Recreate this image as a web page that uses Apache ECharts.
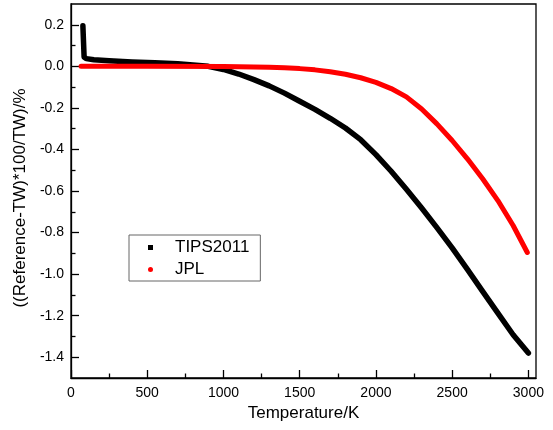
<!DOCTYPE html>
<html>
<head>
<meta charset="utf-8">
<script src="https://cdn.jsdelivr.net/npm/echarts@6/dist/echarts.min.js"></script>
<style>html,body{margin:0;padding:0;background:#fff;}#c{width:553px;height:430px;}</style>
</head>
<body>
<div id="c"></div>
<script>
// Temperature (K) and deviation (%)
var tipsT = [78, 86, 100, 150, 250, 400, 550, 700, 800, 900, 1000, 1100, 1200, 1300, 1400, 1500, 1600, 1700, 1800, 1900, 2000, 2100, 2200, 2300, 2400, 2500, 2600, 2700, 2800, 2900, 3000];
var tipsV = [0.195, 0.045, 0.037, 0.032, 0.027, 0.021, 0.017, 0.012, 0.007, 0.0, -0.015, -0.037, -0.064, -0.094, -0.129, -0.168, -0.207, -0.25, -0.297, -0.353, -0.425, -0.505, -0.592, -0.682, -0.776, -0.874, -0.977, -1.083, -1.188, -1.292, -1.38];
var jplT = [66, 500, 1000, 1300, 1400, 1500, 1600, 1700, 1800, 1900, 2000, 2100, 2200, 2300, 2400, 2500, 2600, 2700, 2800, 2900, 2993];
var jplV = [0.0, 0.0, -0.001, -0.004, -0.007, -0.011, -0.017, -0.026, -0.038, -0.055, -0.077, -0.107, -0.147, -0.205, -0.277, -0.357, -0.445, -0.541, -0.646, -0.766, -0.896];
var xMajor = [0, 500, 1000, 1500, 2000, 2500, 3000];
var xMinor = [250, 750, 1250, 1750, 2250, 2750];
var yMajor = [-1.4, -1.2, -1.0, -0.8, -0.6, -0.4, -0.2, 0.0, 0.2];
var yMinor = [-1.3, -1.1, -0.9, -0.7, -0.5, -0.3, -0.1, 0.1];
var names = ['TIPS2011', 'JPL'];

function pairs(a, b) { return a.map(function (v, i) { return [v, b[i]]; }); }
var FONT = '"Liberation Sans", Arial, sans-serif';
var GW = 465, GH = 374;
var chart = echarts.init(document.getElementById('c'), null, {renderer: 'canvas'});
chart.setOption({
  animation: false,
  backgroundColor: '#fff',
  grid: {left: 71, top: 4, width: GW, height: GH, show: true, borderColor: '#000', borderWidth: 1.3, backgroundColor: 'transparent'},
  legend: {
    left: 129, top: 235, orient: 'vertical',
    data: [
      {name: names[0], icon: 'rect'},
      {name: names[1], icon: 'circle'}
    ],
    itemWidth: 5, itemHeight: 5, itemGap: 5,
    padding: [4, 11, 3, 19],
    borderColor: '#666', borderWidth: 1,
    textStyle: {fontFamily: FONT, fontSize: 17, color: '#000', padding: [0, 0, 0, 17]}
  },
  xAxis: [{
    type: 'value', min: 0, max: 3050, position: 'bottom',
    name: 'Temperature/K', nameLocation: 'middle', nameGap: 26,
    nameTextStyle: {fontFamily: FONT, fontSize: 17, color: '#000'},
    axisLine: {show: true, onZero: false, lineStyle: {color: '#000', width: 1.3}},
    axisTick: {show: true, inside: true, length: 8, customValues: xMajor, lineStyle: {color: '#000', width: 1.3}},
    axisLabel: {customValues: xMajor, margin: 8, fontFamily: FONT, fontSize: 14, color: '#000',
      formatter: function (v) { return String(v); }},
    splitLine: {show: false}
  }, {
    type: 'value', min: 0, max: 3050, position: 'top', offset: -GH,
    axisLine: {show: false, onZero: false},
    axisTick: {show: true, inside: false, length: 4.5, customValues: xMinor, lineStyle: {color: '#000', width: 1.3}},
    axisLabel: {show: false}, splitLine: {show: false}
  }],
  yAxis: [{
    type: 'value', min: -1.5, max: 0.3, position: 'left',
    name: '((Reference-TW)*100/TW)/%', nameLocation: 'middle', nameGap: 41,
    nameTextStyle: {fontFamily: FONT, fontSize: 17, color: '#000', padding: [0, 14, 0, 0]},
    axisLine: {show: true, onZero: false, lineStyle: {color: '#000', width: 1.3}},
    axisTick: {show: true, inside: true, length: 8, customValues: yMajor, lineStyle: {color: '#000', width: 1.3}},
    axisLabel: {customValues: yMajor, margin: 7, fontFamily: FONT, fontSize: 14, color: '#000',
      formatter: function (v) { return v.toFixed(1); }},
    splitLine: {show: false}
  }, {
    type: 'value', min: -1.5, max: 0.3, position: 'left', offset: 0,
    axisLine: {show: false, onZero: false},
    axisTick: {show: true, inside: true, length: 4.5, customValues: yMinor, lineStyle: {color: '#000', width: 1.3}},
    axisLabel: {show: false}, splitLine: {show: false}
  }],
  series: [{
    name: names[0], type: 'line', data: pairs(tipsT, tipsV),
    showSymbol: false, symbol: 'none', color: '#000', smooth: false,
    lineStyle: {color: '#000', width: 5.5, cap: 'round', join: 'round'}
  }, {
    name: names[1], type: 'line', data: pairs(jplT, jplV),
    showSymbol: false, symbol: 'none', color: '#ff0000', z: 3, smooth: false,
    lineStyle: {color: '#ff0000', width: 5, cap: 'round', join: 'round'}
  }]
});
</script>
</body>
</html>
